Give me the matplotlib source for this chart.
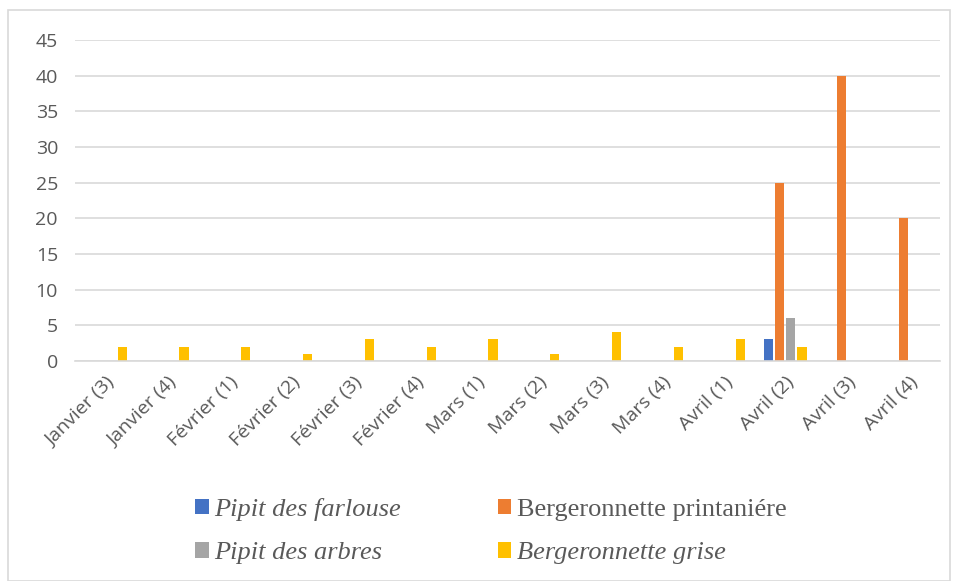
import numpy as np
import matplotlib.pyplot as plt
from matplotlib.patches import Rectangle

categories = ['Janvier (3)', 'Janvier (4)', 'Février (1)', 'Février (2)', 'Février (3)',
              'Février (4)', 'Mars (1)', 'Mars (2)', 'Mars (3)', 'Mars (4)',
              'Avril (1)', 'Avril (2)', 'Avril (3)', 'Avril (4)']
pipit_farlouse = [0, 0, 0, 0, 0, 0, 0, 0, 0, 0, 0, 3, 0, 0]
berg_printaniere = [0, 0, 0, 0, 0, 0, 0, 0, 0, 0, 0, 25, 40, 20]
pipit_arbres = [0, 0, 0, 0, 0, 0, 0, 0, 0, 0, 0, 6, 0, 0]
berg_grise = [2, 2, 2, 1, 3, 2, 3, 1, 4, 2, 3, 2, 0, 0]

series = [
    ('Pipit des farlouse', pipit_farlouse, '#4472c4', 'italic'),
    ('Bergeronnette printaniére', berg_printaniere, '#ed7d31', 'normal'),
    ('Pipit des arbres', pipit_arbres, '#a5a5a5', 'italic'),
    ('Bergeronnette grise', berg_grise, '#ffc000', 'italic'),
]

fig = plt.figure(figsize=(9.57, 5.81), dpi=100)
fig.patches.append(Rectangle((8 / 957, 0.0), 942 / 957, 1 - 10 / 581,
                             transform=fig.transFigure, fill=False,
                             edgecolor='#d9d9d9', linewidth=1.2))
ax = fig.add_axes([0.078, 0.379, 0.904, 0.552])

x = np.arange(len(categories))
w = 0.15
bars = []
for i, (name, vals, col, st) in enumerate(series):
    b = ax.bar(x + (i - 1.5) * (w + 0.03), vals, w, color=col, label=name)
    bars.append(b)

ax.set_xlim(-0.5, len(categories) - 0.5)
ax.set_ylim(0, 45)
ax.set_yticks(range(0, 50, 5))
ax.yaxis.grid(True, color='#d9d9d9', linewidth=1.2)
ax.set_axisbelow(True)
for s in ['top', 'right', 'left']:
    ax.spines[s].set_visible(False)
ax.spines['bottom'].set_color('#d9d9d9')
ax.spines['bottom'].set_linewidth(1.2)
ax.tick_params(length=0, labelsize=14, labelcolor='#595959', pad=9)
ax.tick_params(axis='y', pad=12)
ax.set_xticks(x)
ax.set_xticklabels(categories, rotation=45, ha='right', rotation_mode='anchor')
for lab in ax.get_xticklabels() + ax.get_yticklabels():
    lab.set_fontfamily('Open Sans')

# legend rows: farlouse / printaniére, then arbres / grise (column-major order)
order = [0, 2, 1, 3]
leg = fig.legend([bars[k] for k in order], [series[k][0] for k in order],
                 ncol=2, loc='center', bbox_to_anchor=(0.513, 0.086),
                 frameon=False, handlelength=0.5, handleheight=0.5, handletextpad=0.2,
                 columnspacing=3.7, labelspacing=0.82,
                 prop={'family': 'Liberation Serif', 'size': 19})
for t, k in zip(leg.get_texts(), order):
    t.set_fontstyle(series[k][3])
    t.set_color('#595959')

fig.savefig('out.png', dpi=100)
